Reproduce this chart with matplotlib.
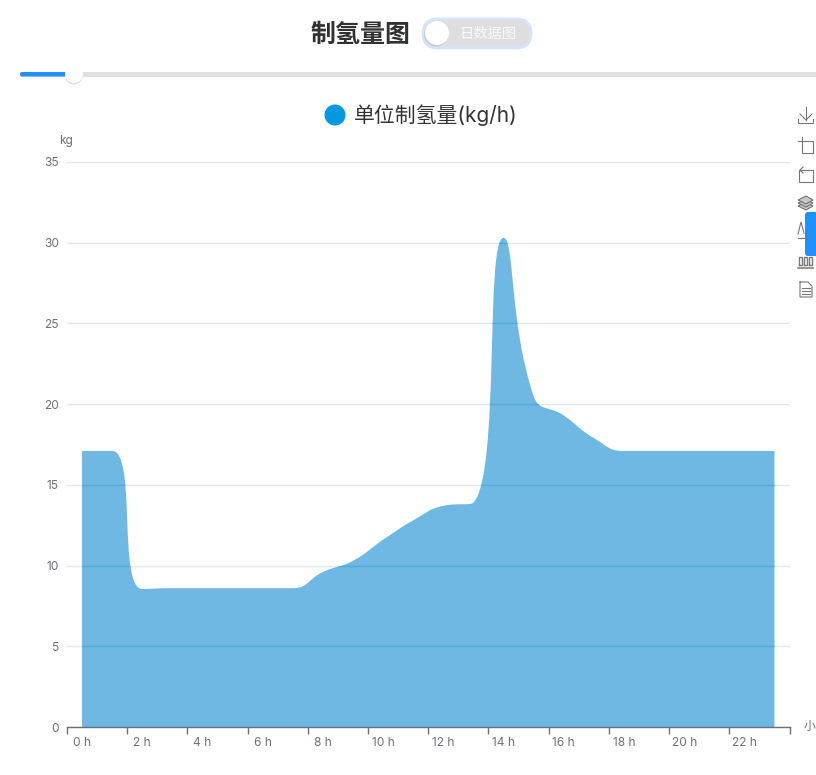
import matplotlib
matplotlib.use('Agg')
import matplotlib.pyplot as plt
import numpy as np
from matplotlib.patches import Circle, FancyBboxPatch, PathPatch, Polygon, Rectangle
from matplotlib.path import Path

plt.rcParams['font.family'] = ['Inter', 'Noto Sans CJK SC', 'DejaVu Sans']

# hourly hydrogen output
hours = list(range(24))
hydrogen = [17.1, 17.1, 8.55, 8.6, 8.6, 8.6, 8.6, 8.6, 9.6, 10.3, 11.6, 12.8,
            13.7, 13.9, 30.3, 20.5, 19.3, 17.9, 17.1, 17.1, 17.1, 17.1, 17.1, 17.1]
y_ticks = [0, 5, 10, 15, 20, 25, 30, 35]
label_hours = hours[::2]
x_labels = [f'{h} h' for h in label_hours]

GRID = '#E0E6F1'
AXIS = '#6E7079'
LEGEND = '#0099DD'
FILL = '#1189D2'


def smooth_path(px, py, smooth=0.5):
    # same idea as echarts smooth lines, works in pixels
    verts = [(px[0], py[0])]
    n = len(px)
    cp_next = np.array([px[0], py[0]], dtype=float)
    for i in range(1, n):
        cur = np.array([px[i], py[i]])
        prev = np.array([px[i - 1], py[i - 1]])
        nxt = np.array([px[min(i + 1, n - 1)], py[min(i + 1, n - 1)]])
        len0 = np.hypot(*(cur - prev))
        len1 = np.hypot(*(nxt - cur))
        if len1 == 0:
            cp_in = cur
            new_next = cur
        else:
            ratio = len1 / (len0 + len1)
            v = nxt - prev
            new_next = cur + v * smooth * ratio
            new_next = np.clip(new_next, np.minimum(nxt, cur), np.maximum(nxt, cur))
            d = new_next - cur
            cp_in = cur - d * len0 / len1
            cp_in = np.clip(cp_in, np.minimum(prev, cur), np.maximum(prev, cur))
            d = cur - cp_in
            new_next = cur + d * len1 / len0
        verts += [tuple(cp_next), tuple(cp_in), tuple(cur)]
        cp_next = new_next
    return verts


fig = plt.figure(figsize=(8.16, 7.75), dpi=100)
ax = fig.add_axes([67 / 816, 1 - 727 / 775, 722.5 / 816, 565 / 775])
ax.set_xlim(-0.5, 23.5)
ax.set_ylim(0, 35)

# area under the smoothed curve
pts = ax.transData.transform(np.column_stack([hours, hydrogen]))
curve = smooth_path(pts[:, 0], pts[:, 1])
base = ax.transData.transform([(hours[-1], 0), (hours[0], 0)])
verts = curve + [tuple(base[0]), tuple(base[1]), curve[0]]
codes = [Path.MOVETO] + [Path.CURVE4] * (len(curve) - 1) + [Path.LINETO, Path.LINETO, Path.CLOSEPOLY]
inv = ax.transData.inverted()
area = PathPatch(Path(inv.transform(verts), codes), facecolor=FILL, alpha=0.6,
                 edgecolor='none', zorder=3)
ax.add_patch(area)

# grid lines show through the area a bit stronger
inner = ax.hlines(y_ticks[1:], -0.5, 23.5, color='#50ACDC', lw=1, zorder=4)
inner.set_clip_path(area)

ax.set_yticks(y_ticks)
ax.grid(True, axis='y', color=GRID, lw=1, zorder=1)
ax.set_axisbelow(True)
ax.tick_params(axis='y', length=0, pad=5.8, labelsize=8.6, labelcolor=AXIS)
ax.set_xticks(np.arange(-0.5, 24, 2))
ax.set_xticklabels([])
ax.set_xticks(label_hours, minor=True)
ax.set_xticklabels(x_labels, minor=True)
ax.tick_params(axis='x', which='major', length=5, color=AXIS, width=1)
ax.tick_params(axis='x', which='minor', length=0, pad=7, labelsize=8.6, labelcolor=AXIS)
for s in ['top', 'right', 'left']:
    ax.spines[s].set_visible(False)
ax.spines['bottom'].set_color(AXIS)
ax.spines['bottom'].set_linewidth(1)

# page widgets around the chart, in pixel coordinates
ui = fig.add_axes([0, 0, 1, 1], zorder=5)
ui.set_xlim(0, 816)
ui.set_ylim(775, 0)
ui.axis('off')
ui.patch.set_alpha(0)

ui.text(361, 35, '制氢量图', fontsize=18, fontweight='bold', color='#303133', ha='center', va='center')

# toggle
ui.add_patch(FancyBboxPatch((423, 19), 108, 29, boxstyle='round,pad=0,rounding_size=14.5',
                            fc='#DEDEDE', ec='#D3E5FC', lw=2))
ui.add_patch(Circle((436, 34.5), 12, fc='#BEBEBE', ec='none', alpha=0.6))
ui.add_patch(Circle((437, 33), 12, fc='white', ec='none'))
ui.text(488, 34, '日数据图', fontsize=10.3, color='#FAFAFA', ha='center', va='center')

# slider
ui.add_patch(Rectangle((20, 72), 796, 4.5, fc='#E0E0E3', ec='none'))
ui.add_patch(FancyBboxPatch((20, 72), 54, 4.5, boxstyle='round,pad=0,rounding_size=2.2',
                            fc='#1E90FF', ec='none'))
ui.add_patch(Circle((74, 75.5), 9, fc='#D0D0D0', ec='none', alpha=0.7))
ui.add_patch(Circle((74, 74), 9, fc='white', ec='none'))

# legend and axis names
ui.add_patch(Circle((335, 115), 10.5, fc=LEGEND, ec='none'))
ui.text(354, 115.5, '单位制氢量(kg/h)', fontsize=15, color='#333333', ha='left', va='center')
ui.text(66.5, 141, 'kg', fontsize=8.6, color=AXIS, ha='center', va='center')
ui.text(804, 727, '小', fontsize=8.6, color=AXIS, ha='left', va='center')


def icon(xs, ys, lw=0.8, color='#777777'):
    ui.plot(xs, ys, color=color, lw=lw, solid_joinstyle='miter')


# toolbox: download, crop, restore, layers, line, bar, doc
icon([806, 806], [107, 120])
icon([800, 806, 812], [114, 120, 114])
icon([798, 798, 813, 813], [119, 123, 123, 119])
icon([798, 813, 813], [141, 141, 153])
icon([802, 802, 813], [137, 153, 153])
icon([804, 799, 799, 813, 813, 800], [170, 170, 182, 182, 170, 170])
icon([803, 800, 803], [167, 170, 173])
for dy in [6, 3, 0]:
    ui.add_patch(Polygon([(798, 200 + dy), (806, 196 + dy), (813, 200 + dy), (806, 204 + dy)],
                         fc='#C8C8C8', ec='#666666', lw=0.7))
icon([798, 801, 804], [234, 222, 233])
icon([798, 806], [238, 238])
icon([798, 813], [268, 268], lw=1.1)
for bx in [799, 804, 809]:
    icon([bx, bx, bx + 3, bx + 3, bx], [265, 257, 257, 265, 265], lw=1)
icon([800, 808, 812, 812, 800, 800], [282, 282, 286, 297, 297, 282])
icon([802, 810], [288, 288])
icon([802, 810], [291, 291])
icon([802, 810], [294, 294])

# blue side tab
ui.add_patch(FancyBboxPatch((805, 212), 30, 44, boxstyle='round,pad=0,rounding_size=3',
                            fc='#1E90FF', ec='none'))

fig.savefig('out.png', dpi=100)
